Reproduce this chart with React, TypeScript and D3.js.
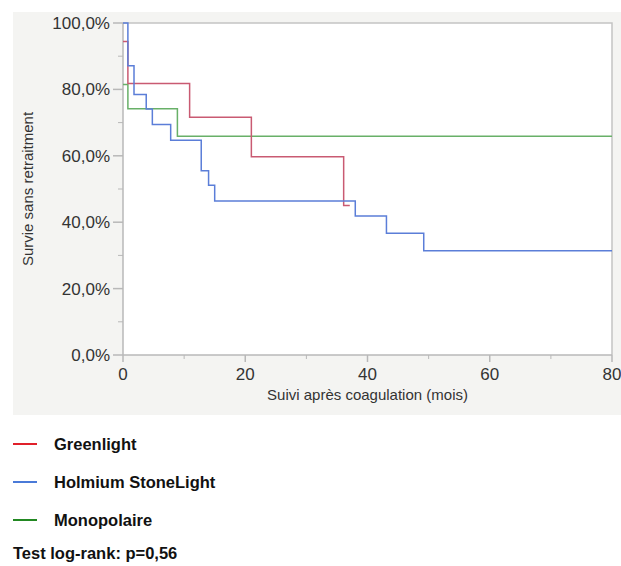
import React, { useEffect, useRef } from 'react';
import * as d3 from 'd3';

// Kaplan-Meier steps: time (mois) at which the curve drops, and the survival after the drop (%)
const greenlightTimes = [0, 0.8, 10.9, 21.0, 36.1, 37.1];
const greenlightSurv = [94.4, 81.8, 71.6, 59.7, 45.0, 45.0];

const holmiumTimes = [0, 0.8, 1.8, 3.8, 4.8, 7.8, 12.8, 14.0, 15.0, 38.0, 43.1, 49.2, 80];
const holmiumSurv = [100, 87.1, 78.5, 74.1, 69.4, 64.7, 55.5, 51.1, 46.4, 41.9, 36.7, 31.4, 31.4];

const monoTimes = [0, 0.8, 8.9, 80];
const monoSurv = [81.5, 74.2, 65.9, 65.9];

const seriesNames = ['Greenlight', 'Holmium StoneLight', 'Monopolaire'];
const lineColors = ['#c95a72', '#5b7ed8', '#68b068'];
const legendColors = ['#e0202a', '#4a7ad8', '#228822'];

const xTicks = [0, 20, 40, 60, 80];
const yTicks = [0, 20, 40, 60, 80, 100];

const App = () => {
  const ref = useRef<SVGSVGElement | null>(null);

  useEffect(() => {
    const svg = d3.select(ref.current);
    svg.selectAll('*').remove();
    const font = '"Liberation Sans", Arial, sans-serif';

    const x = d3.scaleLinear().domain([0, 80]).range([123, 612]);
    const y = d3.scaleLinear().domain([0, 100]).range([355, 23]);

    // gray panel
    svg.append('rect').attr('x', 13).attr('y', 12).attr('width', 608).attr('height', 403).attr('fill', '#f4f4f2');
    svg.append('rect').attr('x', x(0)).attr('y', y(100)).attr('width', x(80) - x(0)).attr('height', y(0) - y(100))
      .attr('fill', '#fff');
    // frame top / right
    svg.append('path')
      .attr('d', `M${x(0)},${y(100)}H${x(80)}V${y(0)}`)
      .attr('fill', 'none').attr('stroke', '#c4c4c4').attr('stroke-width', 1.5);

    // y axis
    const yAxis = svg.append('g').attr('transform', `translate(${x(0)},0)`);
    yAxis.append('line').attr('y1', y(0)).attr('y2', y(100)).attr('stroke', '#b8b8b8').attr('stroke-width', 1.5);
    d3.range(10, 100, 20).forEach(v => {
      yAxis.append('line').attr('x1', -5).attr('x2', 0).attr('y1', y(v)).attr('y2', y(v)).attr('stroke', '#b8b8b8');
    });
    yTicks.forEach(v => {
      yAxis.append('line').attr('x1', -10).attr('x2', 0).attr('y1', y(v)).attr('y2', y(v)).attr('stroke', '#b8b8b8').attr('stroke-width', 1.5);
      yAxis.append('text').attr('x', -13).attr('y', y(v)).attr('dy', '0.35em').attr('text-anchor', 'end')
        .attr('font-family', font).attr('font-size', 17).attr('fill', '#333')
        .text(d3.format('.1f')(v).replace('.', ',') + '%');
    });

    // x axis
    const xAxis = svg.append('g').attr('transform', `translate(0,${y(0)})`);
    xAxis.append('line').attr('x1', x(0)).attr('x2', x(80)).attr('stroke', '#b8b8b8').attr('stroke-width', 1.5);
    d3.range(10, 80, 20).forEach(v => {
      xAxis.append('line').attr('x1', x(v)).attr('x2', x(v)).attr('y1', 0).attr('y2', 4).attr('stroke', '#b8b8b8');
    });
    xTicks.forEach(v => {
      xAxis.append('line').attr('x1', x(v)).attr('x2', x(v)).attr('y1', 0).attr('y2', 7).attr('stroke', '#b8b8b8').attr('stroke-width', 1.5);
      xAxis.append('text').attr('x', x(v)).attr('y', 25).attr('text-anchor', 'middle')
        .attr('font-family', font).attr('font-size', 17).attr('fill', '#333').text(v);
    });

    svg.append('text').attr('x', (x(0) + x(80)) / 2).attr('y', 400).attr('text-anchor', 'middle')
      .attr('font-family', font).attr('font-size', 15).attr('fill', '#333').text('Suivi après coagulation (mois)');
    svg.append('text').attr('transform', `translate(33,${(y(0) + y(100)) / 2}) rotate(-90)`).attr('text-anchor', 'middle')
      .attr('font-family', font).attr('font-size', 15).attr('fill', '#333').text('Survie sans retraitment');

    // curves
    const series = [
      greenlightTimes.map((t, i) => [t, greenlightSurv[i]]),
      holmiumTimes.map((t, i) => [t, holmiumSurv[i]]),
      monoTimes.map((t, i) => [t, monoSurv[i]]),
    ];
    const line = d3.line<number[]>().x(d => x(d[0])).y(d => y(d[1])).curve(d3.curveStepAfter);
    [2, 0, 1].forEach(i => {
      svg.append('path').datum(series[i]).attr('d', line).attr('fill', 'none')
        .attr('stroke', lineColors[i]).attr('stroke-width', 1.5);
    });

    // legend
    seriesNames.forEach((name, i) => {
      const ly = 444 + i * 38;
      svg.append('line').attr('x1', 13).attr('x2', 37).attr('y1', ly).attr('y2', ly)
        .attr('stroke', legendColors[i]).attr('stroke-width', 2);
      svg.append('text').attr('x', 54).attr('y', ly).attr('dy', '0.35em')
        .attr('font-family', font).attr('font-size', 16.5).attr('font-weight', 'bold').attr('fill', '#111').text(name);
    });
    svg.append('text').attr('x', 13).attr('y', 559)
      .attr('font-family', font).attr('font-size', 16.5).attr('font-weight', 'bold').attr('fill', '#111')
      .text('Test log-rank: p=0,56');
  }, []);

  return (
    <svg ref={ref} width={621} height={566} style={{ position: 'absolute', left: 0, top: 0, background: '#fff' }} />
  );
};

export default App;
